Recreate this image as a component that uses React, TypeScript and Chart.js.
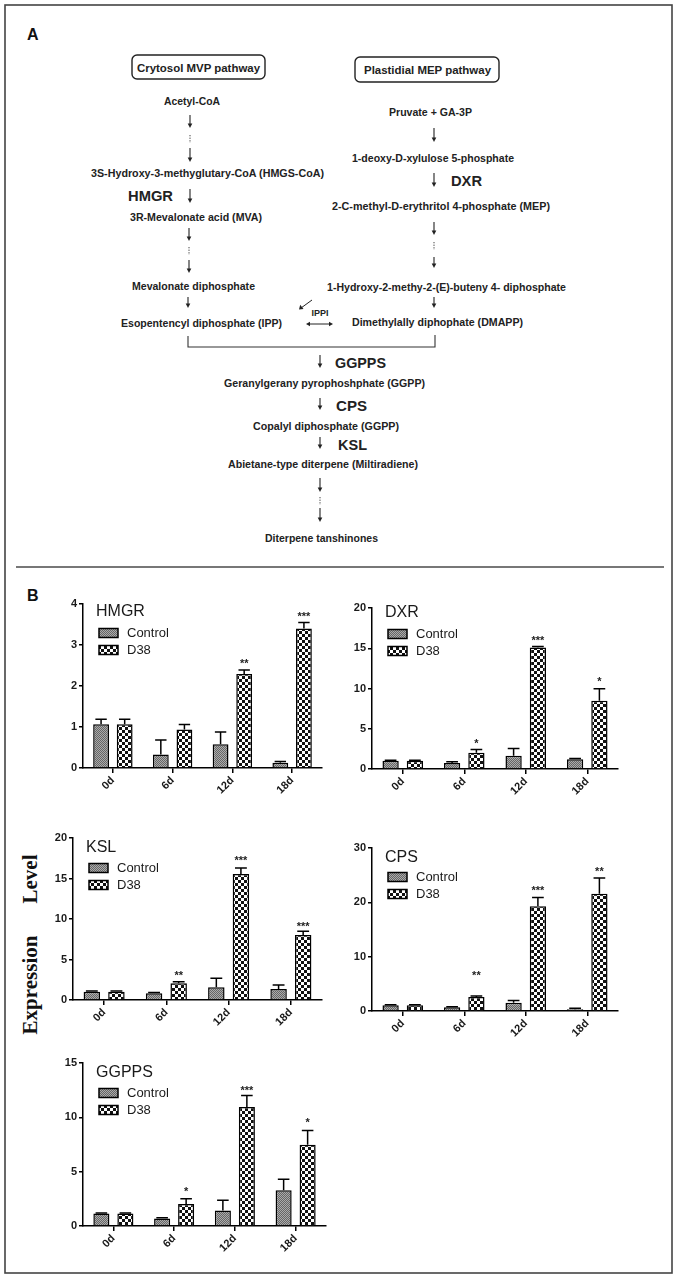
import React, { useEffect, useRef } from "react";
import { Chart, registerables } from "chart.js";

Chart.register(...registerables);
Chart.defaults.font.family = '"Liberation Sans", Arial, sans-serif';

// ---------- DATA ----------
const categories = ["0d", "6d", "12d", "18d"];

const hmgrControl = [1.07, 0.33, 0.58, 0.13];
const hmgrControlErr = [0.12, 0.35, 0.3, 0.03];
const hmgrD38 = [1.07, 0.94, 2.29, 3.4];
const hmgrD38Err = [0.12, 0.12, 0.1, 0.15];
const hmgrStars = ["", "", "**", "***"];
const hmgrStarLevels = [0, 0, 2.63, 3.77];

const dxrControl = [1.03, 0.74, 1.65, 1.2];
const dxrControlErr = [0.05, 0.15, 0.9, 0.1];
const dxrD38 = [1.03, 2.03, 15.08, 8.47];
const dxrD38Err = [0.05, 0.4, 0.15, 1.5];
const dxrStars = ["", "*", "***", "*"];
const dxrStarLevels = [0, 3.48, 16.36, 11.27];

const kslControl = [1.03, 0.82, 1.57, 1.36];
const kslControlErr = [0.08, 0.12, 1.1, 0.5];
const kslD38 = [1.03, 2.06, 15.55, 8.04];
const kslD38Err = [0.08, 0.2, 0.75, 0.45];
const kslStars = ["", "**", "***", "***"];
const kslStarLevels = [0, 3.42, 17.6, 9.47];

const cpsControl = [1.04, 0.67, 1.53, 0.3];
const cpsControlErr = [0.1, 0.1, 0.4, 0.2];
const cpsD38 = [1.04, 2.58, 19.3, 21.6];
const cpsD38Err = [0.1, 0.2, 1.6, 2.9];
const cpsStars = ["", "**", "***", "**"];
const cpsStarLevels = [0, 7.13, 22.7, 26.3];

const ggppsControl = [1.15, 0.7, 1.42, 3.3];
const ggppsControlErr = [0.05, 0.05, 0.95, 1.0];
const ggppsD38 = [1.15, 2.03, 10.95, 7.48];
const ggppsD38Err = [0.05, 0.47, 1.05, 1.3];
const ggppsStars = ["", "*", "***", "*"];
const ggppsStarLevels = [0, 3.47, 12.72, 9.82];

const seriesNames = ["Control", "D38"];

// ---------- PATTERNS ----------
function makePattern(ctx: CanvasRenderingContext2D, kind: string) {
  const c = document.createElement("canvas");
  const g = c.getContext("2d")!;
  if (kind === "control") {
    c.width = 2;
    c.height = 2;
    g.fillStyle = "#ababab";
    g.fillRect(0, 0, 2, 2);
    g.fillStyle = "#666";
    g.fillRect(0, 0, 1, 1);
    g.fillRect(1, 1, 1, 1);
  } else {
    c.width = 6;
    c.height = 6;
    g.fillStyle = "#fff";
    g.fillRect(0, 0, 6, 6);
    g.fillStyle = "#111";
    g.fillRect(0, 0, 3, 3);
    g.fillRect(3, 3, 3, 3);
  }
  return ctx.createPattern(c, "repeat")!;
}

type Area = { l: number; t: number; r: number; b: number };
type PanelProps = {
  title: string;
  control: number[];
  controlErr: number[];
  d38: number[];
  d38Err: number[];
  stars: string[];
  starLevels: number[];
  max: number;
  step: number;
  area: Area;
  titleDy: number;
  legendDy: number;
};

const PAD_L = 45;
const PAD_T = 12;
const PAD_R = 10;
const PAD_B = 50;

function BarPanel(p: PanelProps) {
  const ref = useRef<HTMLCanvasElement>(null);
  const w = p.area.r - p.area.l + PAD_L + PAD_R;
  const h = p.area.b - p.area.t + PAD_T + PAD_B;

  useEffect(() => {
    const canvas = ref.current!;
    const ctx = canvas.getContext("2d")!;
    const ctrlPat = makePattern(ctx, "control");
    const d38Pat = makePattern(ctx, "d38");

    const overlay = {
      id: "overlay",
      afterDatasetsDraw(chart: any) {
        const c = chart.ctx as CanvasRenderingContext2D;
        const ys = chart.scales.y;
        const ca = chart.chartArea;
        c.save();
        // error bars
        const sets = [
          { v: p.control, e: p.controlErr },
          { v: p.d38, e: p.d38Err },
        ];
        c.strokeStyle = "#000";
        c.lineWidth = 1.5;
        sets.forEach((s, i) => {
          const meta = chart.getDatasetMeta(i);
          meta.data.forEach((bar: any, j: number) => {
            const yTop = ys.getPixelForValue(s.v[j] + s.e[j]);
            const cw = bar.width * 0.72;
            c.beginPath();
            c.moveTo(bar.x, bar.y);
            c.lineTo(bar.x, yTop);
            c.moveTo(bar.x - cw / 2, yTop);
            c.lineTo(bar.x + cw / 2, yTop);
            c.stroke();
          });
        });
        // stars
        c.fillStyle = "#222";
        c.font = 'bold 11px "Liberation Sans", Arial, sans-serif';
        c.textAlign = "center";
        c.textBaseline = "alphabetic";
        const m1 = chart.getDatasetMeta(1);
        p.stars.forEach((s, j) => {
          if (!s) return;
          const bar: any = m1.data[j];
          const y = ys.getPixelForValue(p.starLevels[j]);
          c.fillText(s, bar.x, y + 6.4);
        });
        // title
        c.textAlign = "left";
        c.textBaseline = "middle";
        c.fillStyle = "#1a1a1a";
        c.font = '16px "Liberation Sans", Arial, sans-serif';
        c.fillText(p.title, ca.left + 13, ca.top + p.titleDy);
        // legend
        const pats = [ctrlPat, d38Pat];
        seriesNames.forEach((name, i) => {
          const cy = ca.top + p.legendDy + i * 17;
          c.fillStyle = pats[i] as any;
          c.fillRect(ca.left + 16, cy - 4.5, 19, 9);
          c.strokeStyle = "#000";
          c.lineWidth = 1.5;
          c.strokeRect(ca.left + 16, cy - 4.5, 19, 9);
          c.fillStyle = "#1a1a1a";
          c.font = '13px "Liberation Sans", Arial, sans-serif';
          c.fillText(name, ca.left + 44, cy + 0.5);
        });
        c.restore();
      },
    };

    const chart = new Chart(ctx, {
      type: "bar",
      data: {
        labels: categories,
        datasets: [
          {
            label: seriesNames[0],
            data: p.control,
            backgroundColor: ctrlPat as any,
            borderColor: "#000",
            borderWidth: 1.5,
            categoryPercentage: 0.79,
            barPercentage: 0.67,
          },
          {
            label: seriesNames[1],
            data: p.d38,
            backgroundColor: d38Pat as any,
            borderColor: "#000",
            borderWidth: 1.5,
            categoryPercentage: 0.79,
            barPercentage: 0.67,
          },
        ],
      },
      options: {
        responsive: false,
        animation: false,
        devicePixelRatio: 1,
        layout: { padding: { top: PAD_T, right: PAD_R, left: 0, bottom: 0 } },
        plugins: {
          legend: { display: false },
          tooltip: { enabled: false },
          title: { display: false },
        },
        scales: {
          x: {
            grid: {
              display: true,
              offset: false,
              drawOnChartArea: false,
              drawTicks: true,
              tickLength: 5,
              color: "#000",
              lineWidth: 1.5,
            },
            border: { display: true, color: "#000", width: 1.5 },
            ticks: {
              minRotation: 45,
              maxRotation: 45,
              color: "#1a1a1a",
              padding: 1,
              font: { size: 11, weight: "bold" },
            },
            afterFit: (s: any) => {
              s.height = PAD_B;
            },
          },
          y: {
            min: 0,
            max: p.max,
            grid: {
              display: true,
              drawOnChartArea: false,
              drawTicks: true,
              tickLength: 4,
              color: "#000",
              lineWidth: 1.5,
            },
            border: { display: true, color: "#000", width: 1.5 },
            ticks: {
              stepSize: p.step,
              color: "#1a1a1a",
              padding: 2,
              font: { size: 11, weight: "bold" },
            },
            afterFit: (s: any) => {
              s.width = PAD_L;
            },
          },
        },
      } as any,
      plugins: [overlay],
    });
    return () => chart.destroy();
  }, []);

  return (
    <canvas
      ref={ref}
      width={w}
      height={h}
      style={{
        position: "absolute",
        left: p.area.l - PAD_L,
        top: p.area.t - PAD_T,
        width: w,
        height: h,
      }}
    />
  );
}

// ---------- PANEL A (pathway diagram) ----------
const FONT = '"Liberation Sans", Arial, sans-serif';

function T(props: { x: number; y: number; w?: number; s?: number; children: string; anchor?: string }) {
  const { x, y, w, s = 10.5, children, anchor = "middle" } = props;
  const extra: any = w ? { textLength: w, lengthAdjust: "spacingAndGlyphs" } : {};
  return (
    <text
      x={x}
      y={y}
      fontFamily={FONT}
      fontWeight="bold"
      fontSize={s}
      fill="#222"
      textAnchor={anchor as any}
      dominantBaseline="central"
      {...extra}
    >
      {children}
    </text>
  );
}

function Arrow(props: { x: number; y1: number; y2: number }) {
  const { x, y1, y2 } = props;
  return (
    <g>
      <line x1={x} y1={y1} x2={x} y2={y2 - 3} stroke="#222" strokeWidth={1.1} />
      <polygon points={`${x - 2.3},${y2 - 4.5} ${x + 2.3},${y2 - 4.5} ${x},${y2}`} fill="#222" />
    </g>
  );
}

function Dots(props: { x: number; y1: number; y2: number }) {
  const { x, y1, y2 } = props;
  return <line x1={x} y1={y1} x2={x} y2={y2} stroke="#444" strokeWidth={1} strokeDasharray="1.3,1.3" />;
}

function PanelA() {
  return (
    <g>
      <text x={27} y={34} fontFamily={FONT} fontWeight="bold" fontSize={16} fill="#111" dominantBaseline="central">
        A
      </text>
      <rect x={132} y={55} width={133} height={24} rx={5} fill="none" stroke="#222" strokeWidth={1.4} />
      <T x={198.5} y={67.5} w={123} s={11.5}>Crytosol MVP pathway</T>
      <rect x={355} y={57} width={144} height={25} rx={5} fill="none" stroke="#222" strokeWidth={1.4} />
      <T x={427.5} y={69.5} w={127} s={11.5}>Plastidial MEP pathway</T>

      <T x={192} y={101} w={56}>Acetyl-CoA</T>
      <Arrow x={190} y1={115} y2={128} />
      <Dots x={190} y1={135} y2={143} />
      <Arrow x={190} y1={148} y2={162} />
      <T x={207.5} y={173} w={233}>3S-Hydroxy-3-methyglutary-CoA (HMGS-CoA)</T>
      <T x={150.5} y={195} w={45} s={15}>HMGR</T>
      <Arrow x={190} y1={189} y2={203} />
      <T x={196} y={217} w={132}>3R-Mevalonate acid (MVA)</T>
      <Arrow x={189} y1={228} y2={241} />
      <Dots x={189} y1={247} y2={255} />
      <Arrow x={189} y1={260} y2={273} />
      <T x={193.5} y={286} w={123}>Mevalonate diphosphate</T>
      <Arrow x={188} y1={297} y2={308} />
      <T x={201.5} y={323} w={161}>Esopentencyl diphosphate (IPP)</T>

      <T x={430.5} y={112} w={83}>Pruvate + GA-3P</T>
      <Arrow x={434} y1={128} y2={142} />
      <T x={433} y={158} w={162}>1-deoxy-D-xylulose 5-phosphate</T>
      <Arrow x={434} y1={173} y2={187} />
      <T x={466.5} y={180} w={31} s={15}>DXR</T>
      <T x={441} y={206} w={218}>2-C-methyl-D-erythritol 4-phosphate (MEP)</T>
      <Arrow x={434} y1={222} y2={235} />
      <Dots x={434} y1={242} y2={250} />
      <Arrow x={434} y1={257} y2={268} />
      <T x={446.5} y={287} w={239}>1-Hydroxy-2-methy-2-(E)-buteny 4- diphosphate</T>
      <Arrow x={434} y1={297} y2={308} />
      <T x={437.5} y={322} w={171}>Dimethylally diphophate (DMAPP)</T>

      <T x={320} y={312} w={17} s={9.5}>IPPI</T>
      <line x1={312} y1={300} x2={301} y2={308} stroke="#222" strokeWidth={1} />
      <polygon points="299,309.5 300.2,304.8 303.5,309" fill="#222" />
      <line x1={309} y1={324} x2={330} y2={324} stroke="#222" strokeWidth={1} />
      <polygon points="306,324 310,321.8 310,326.2" fill="#222" />
      <polygon points="333,324 329,321.8 329,326.2" fill="#222" />

      <path d="M188 336 V347 H435 V335" fill="none" stroke="#333" strokeWidth={1.1} />

      <Arrow x={320} y1={355} y2={368} />
      <T x={360.5} y={362} w={51} s={15}>GGPPS</T>
      <T x={324.5} y={383} w={201}>Geranylgerany pyrophoshphate (GGPP)</T>
      <Arrow x={320} y1={398} y2={410} />
      <T x={351.5} y={405} w={31} s={15}>CPS</T>
      <T x={326} y={426} w={146}>Copalyl diphosphate (GGPP)</T>
      <Arrow x={320} y1={437} y2={449} />
      <T x={352.5} y={444} w={29} s={15}>KSL</T>
      <T x={323} y={464} w={190}>Abietane-type diterpene (Miltiradiene)</T>
      <Arrow x={320} y1={478} y2={492} />
      <Dots x={320} y1={497} y2={505} />
      <Arrow x={320} y1={508} y2={522} />
      <T x={321.5} y={538} w={113}>Diterpene tanshinones</T>
    </g>
  );
}

export default function App() {
  return (
    <div style={{ position: "absolute", left: 0, top: 0, width: 677, height: 1280, background: "#fff" }}>
      <svg width={677} height={1280} style={{ position: "absolute", left: 0, top: 0 }}>
        <rect x={5} y={5} width={667} height={1268} fill="none" stroke="#444" strokeWidth={1.6} />
        <PanelA />
        <line x1={16} y1={567} x2={664} y2={567} stroke="#777" strokeWidth={2} />
        <text x={27} y={595} fontFamily={FONT} fontWeight="bold" fontSize={16} fill="#111" dominantBaseline="central">
          B
        </text>
        <text
          x={0}
          y={0}
          transform="translate(30,879) rotate(-90)"
          fontFamily='"Liberation Serif", "Times New Roman", serif'
          fontWeight="bold"
          fontSize={21}
          fill="#111"
          textAnchor="middle"
          dominantBaseline="central"
        >
          Level
        </text>
        <text
          x={0}
          y={0}
          transform="translate(30,985) rotate(-90)"
          fontFamily='"Liberation Serif", "Times New Roman", serif'
          fontWeight="bold"
          fontSize={21}
          fill="#111"
          textAnchor="middle"
          dominantBaseline="central"
        >
          Expression
        </text>
      </svg>

      <BarPanel
        title="HMGR"
        control={hmgrControl}
        controlErr={hmgrControlErr}
        d38={hmgrD38}
        d38Err={hmgrD38Err}
        stars={hmgrStars}
        starLevels={hmgrStarLevels}
        max={4}
        step={1}
        area={{ l: 83, t: 604, r: 322, b: 768 }}
        titleDy={8}
        legendDy={29}
      />
      <BarPanel
        title="DXR"
        control={dxrControl}
        controlErr={dxrControlErr}
        d38={dxrD38}
        d38Err={dxrD38Err}
        stars={dxrStars}
        starLevels={dxrStarLevels}
        max={20}
        step={5}
        area={{ l: 372, t: 608, r: 618, b: 769 }}
        titleDy={5}
        legendDy={26}
      />
      <BarPanel
        title="KSL"
        control={kslControl}
        controlErr={kslControlErr}
        d38={kslD38}
        d38Err={kslD38Err}
        stars={kslStars}
        starLevels={kslStarLevels}
        max={20}
        step={5}
        area={{ l: 73, t: 838, r: 322, b: 1000 }}
        titleDy={10}
        legendDy={30}
      />
      <BarPanel
        title="CPS"
        control={cpsControl}
        controlErr={cpsControlErr}
        d38={cpsD38}
        d38Err={cpsD38Err}
        stars={cpsStars}
        starLevels={cpsStarLevels}
        max={30}
        step={10}
        area={{ l: 372, t: 848, r: 618, b: 1011 }}
        titleDy={10}
        legendDy={29}
      />
      <BarPanel
        title="GGPPS"
        control={ggppsControl}
        controlErr={ggppsControlErr}
        d38={ggppsD38}
        d38Err={ggppsD38Err}
        stars={ggppsStars}
        starLevels={ggppsStarLevels}
        max={15}
        step={5}
        area={{ l: 83, t: 1063, r: 326, b: 1226 }}
        titleDy={10}
        legendDy={30}
      />
    </div>
  );
}
